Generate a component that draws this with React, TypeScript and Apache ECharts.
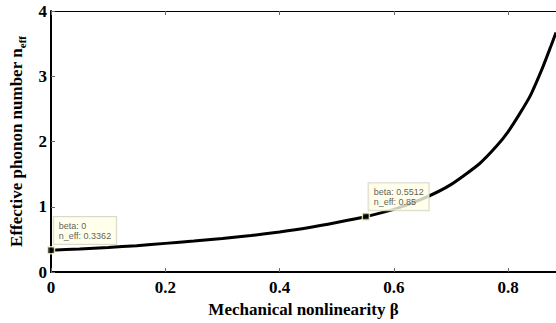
import React, { useEffect, useRef } from "react";
import * as echarts from "echarts";

// Mechanical nonlinearity β (x) and effective phonon number n_eff (y)
const betaValues = [0, 0.05, 0.1, 0.15, 0.2, 0.25, 0.3, 0.35, 0.4, 0.45, 0.5, 0.55, 0.6, 0.65, 0.7, 0.75, 0.78, 0.8, 0.82, 0.84, 0.86, 0.875, 0.884];
const nEffValues = [0.3362, 0.355, 0.377, 0.405, 0.44, 0.475, 0.515, 0.56, 0.615, 0.68, 0.76, 0.848, 0.96, 1.12, 1.34, 1.66, 1.93, 2.15, 2.42, 2.72, 3.12, 3.46, 3.67];

// Data tips
const tipBeta = [0, 0.5512];
const tipNeff = [0.3362, 0.85];

const xTicks = [0, 0.2, 0.4, 0.6, 0.8];
const yTicks = [0, 1, 2, 3, 4];

const serif = "'Liberation Serif', 'Times New Roman', serif";
const sans = "'Liberation Sans', Arial, sans-serif";

export default function App() {
  const ref = useRef<HTMLDivElement>(null);

  useEffect(() => {
    if (!ref.current) return;
    document.body.style.margin = "0";
    const chart = echarts.init(ref.current, undefined, { renderer: "svg" });

    const tickLabel = {
      fontFamily: serif,
      fontWeight: "bold" as const,
      fontSize: 17,
      color: "#000",
    };

    chart.setOption({
      animation: false,
      backgroundColor: "#fff",
      grid: { left: 51, right: 0, top: 11, bottom: 46 },
      xAxis: [
        {
          type: "value",
          min: 0,
          max: 0.884,
          interval: 0.2,
          position: "bottom",
          axisLine: { show: true, onZero: false, lineStyle: { color: "#000", width: 2 } },
          axisTick: { show: true, inside: true, length: 4, lineStyle: { color: "#666", width: 1 } },
          axisLabel: {
            ...tickLabel,
            margin: 7,
            showMaxLabel: false,
            formatter: (v: number) => {
              const t = xTicks.find((k) => Math.abs(k - v) < 1e-9);
              return t === undefined ? "" : t === 0 ? "0" : t.toFixed(1);
            },
          },
          splitLine: { show: false },
          name: "Mechanical nonlinearity β",
          nameLocation: "middle",
          nameGap: 24,
          nameTextStyle: { fontFamily: serif, fontWeight: "bold", fontSize: 17, color: "#000" },
        },
        {
          type: "value",
          min: 0,
          max: 0.884,
          interval: 0.2,
          position: "top",
          axisLine: { show: true, onZero: false, lineStyle: { color: "#000", width: 1 } },
          axisTick: { show: true, inside: true, length: 4, lineStyle: { color: "#666", width: 1 } },
          axisLabel: { show: false },
          splitLine: { show: false },
        },
      ],
      yAxis: {
        type: "value",
        min: 0,
        max: 4,
        interval: 1,
        axisLine: { show: true, onZero: false, lineStyle: { color: "#000", width: 2 } },
        axisTick: { show: true, inside: true, length: 4, lineStyle: { color: "#666", width: 1 } },
        axisLabel: {
          ...tickLabel,
          margin: 4,
          formatter: (v: number) => (yTicks.includes(v) ? String(v) : ""),
        },
        splitLine: { show: false },
        name: "{a|Effective phonon number n}{b|eff}",
        nameLocation: "middle",
        nameGap: 24,
        nameTextStyle: {
          rich: {
            a: { fontFamily: serif, fontWeight: "bold", fontSize: 17, color: "#000" },
            b: { fontFamily: serif, fontWeight: "bold", fontSize: 11, color: "#000", padding: [10, 0, 0, 0] },
          },
        },
      },
      series: [
        {
          type: "line",
          data: betaValues.map((b, i) => [b, nEffValues[i]]),
          smooth: 0.2,
          showSymbol: false,
          lineStyle: { color: "#000", width: 3 },
          z: 2,
        },
        {
          type: "scatter",
          data: tipBeta.map((b, i) => [b, tipNeff[i]]),
          symbol: "rect",
          symbolSize: 7,
          itemStyle: { color: "#000", borderColor: "#ffffcc", borderWidth: 1.5 },
          z: 5,
          label: {
            show: true,
            position: [7, -29],
            formatter: (p: any) => `beta: ${p.value[0]}\nn_eff: ${p.value[1]}`,
            fontFamily: sans,
            fontSize: 9,
            lineHeight: 10,
            color: "#333",
            align: "left",
            verticalAlign: "top",
            backgroundColor: "#ffffe6",
            borderColor: "#cfcfbf",
            borderWidth: 1,
            padding: [4, 5, 3, 5],
          },
        },
      ],
    });

    return () => chart.dispose();
  }, []);

  return <div ref={ref} style={{ width: 556, height: 323 }} />;
}
